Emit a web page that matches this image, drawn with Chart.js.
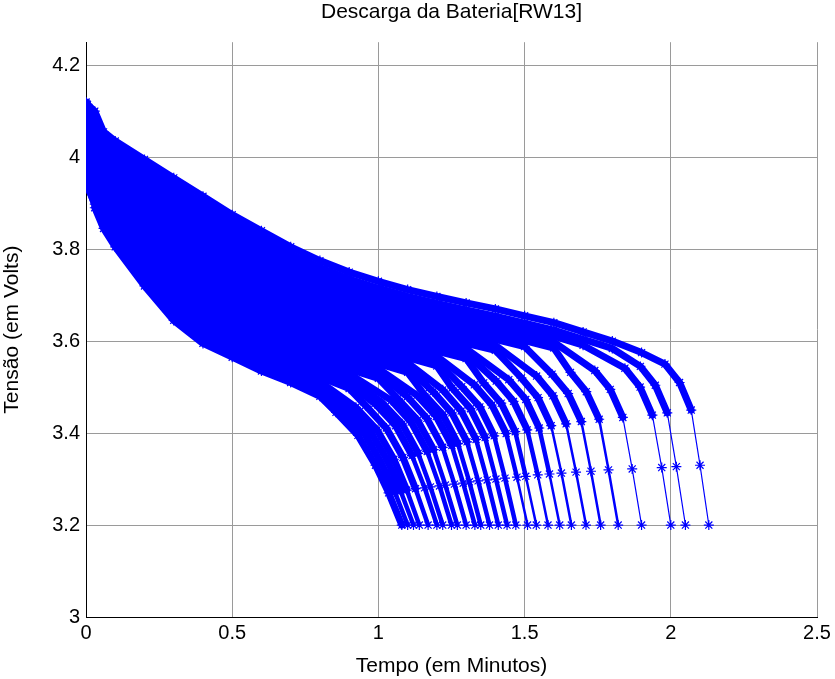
<!DOCTYPE html>
<html>
<head>
<meta charset="utf-8">
<script src="https://cdn.jsdelivr.net/npm/chart.js@4.4.0/dist/chart.umd.min.js"></script>
<style>
  html, body { margin: 0; padding: 0; background: #fff; }
</style>
</head>
<body>
<canvas id="myChart" width="835" height="679"></canvas>
<script>
const xTicks = [0, 0.5, 1, 1.5, 2, 2.5];
const yTicks = [3, 3.2, 3.4, 3.6, 3.8, 4, 4.2];

// common sample times (minutes) for the flat part of every cycle
const timeGrid = [0, 0.005, 0.03, 0.06, 0.1, 0.2, 0.3, 0.4, 0.5, 0.6, 0.7, 0.8, 0.9, 1.0,
  1.1, 1.2, 1.3, 1.4, 1.5, 1.6, 1.7, 1.8, 1.9];

// times of the last 5 samples of each cycle (the knee down to 3.2 V)
const kneeTimes = [
  [0.855, 0.93, 0.99, 1.035, 1.08],
  [0.878, 0.952, 1.011, 1.056, 1.10],
  [0.90, 0.973, 1.032, 1.076, 1.12],
  [0.923, 0.995, 1.053, 1.097, 1.14],
  [0.956, 1.027, 1.084, 1.127, 1.17],
  [0.988, 1.059, 1.115, 1.158, 1.20],
  [1.011, 1.081, 1.136, 1.178, 1.22],
  [1.044, 1.112, 1.167, 1.209, 1.25],
  [1.066, 1.134, 1.189, 1.229, 1.27],
  [1.099, 1.166, 1.22, 1.26, 1.30],
  [1.132, 1.198, 1.251, 1.29, 1.33],
  [1.154, 1.22, 1.272, 1.311, 1.35],
  [1.187, 1.251, 1.303, 1.341, 1.38],
  [1.22, 1.283, 1.334, 1.372, 1.41],
  [1.252, 1.315, 1.365, 1.402, 1.44],
  [1.285, 1.347, 1.396, 1.433, 1.47],
  [1.328, 1.388, 1.437, 1.474, 1.51],
  [1.36, 1.42, 1.468, 1.504, 1.54],
  [1.403, 1.462, 1.509, 1.545, 1.58],
  [1.446, 1.504, 1.55, 1.585, 1.62],
  [1.489, 1.546, 1.591, 1.626, 1.66],
  [1.541, 1.597, 1.642, 1.676, 1.71],
  [1.594, 1.649, 1.694, 1.727, 1.76],
  [1.657, 1.711, 1.755, 1.787, 1.82],
  [1.74, 1.793, 1.836, 1.868, 1.90],
  [1.843, 1.895, 1.937, 1.969, 2.0],
  [1.896, 1.947, 1.988, 2.019, 2.05],
  [1.98, 2.03, 2.07, 2.10, 2.13]
];

// voltage per cycle: flat part on timeGrid, then the 5 knee samples
const cycleVolts = [
  [4.08, 3.93, 3.89, 3.845, 3.805, 3.72, 3.645, 3.595, 3.565, 3.535, 3.51, 3.48,
    3.445, 3.395, 3.33, 3.27, 3.2],
  [4.081, 3.937, 3.898, 3.853, 3.813, 3.73, 3.656, 3.607, 3.576, 3.546, 3.521, 3.491,
    3.449, 3.399, 3.334, 3.272, 3.2],
  [4.083, 3.943, 3.905, 3.86, 3.821, 3.74, 3.667, 3.618, 3.587, 3.557, 3.531, 3.501,
    3.452, 3.403, 3.339, 3.274, 3.2],
  [4.084, 3.95, 3.913, 3.868, 3.83, 3.749, 3.678, 3.629, 3.598, 3.568, 3.542, 3.512,
    3.456, 3.407, 3.343, 3.276, 3.2],
  [4.086, 3.957, 3.92, 3.875, 3.838, 3.759, 3.689, 3.641, 3.609, 3.579, 3.552, 3.522, 3.497,
    3.46, 3.411, 3.347, 3.279, 3.2],
  [4.087, 3.963, 3.928, 3.883, 3.846, 3.769, 3.701, 3.652, 3.621, 3.59, 3.563, 3.533, 3.508,
    3.464, 3.416, 3.351, 3.281, 3.2],
  [4.089, 3.97, 3.935, 3.89, 3.854, 3.779, 3.711, 3.664, 3.631, 3.6, 3.573, 3.543, 3.518,
    3.467, 3.42, 3.356, 3.283, 3.2],
  [4.09, 3.976, 3.943, 3.898, 3.863, 3.789, 3.723, 3.675, 3.643, 3.611, 3.584, 3.554, 3.529,
    3.471, 3.424, 3.36, 3.285, 3.2],
  [4.091, 3.983, 3.95, 3.905, 3.871, 3.799, 3.734, 3.687, 3.654, 3.622, 3.594, 3.564, 3.539, 3.519,
    3.475, 3.428, 3.364, 3.287, 3.2],
  [4.093, 3.989, 3.957, 3.912, 3.879, 3.808, 3.745, 3.698, 3.665, 3.633, 3.605, 3.575, 3.55, 3.53,
    3.479, 3.432, 3.369, 3.289, 3.2],
  [4.094, 3.996, 3.965, 3.92, 3.887, 3.818, 3.756, 3.709, 3.676, 3.644, 3.615, 3.585, 3.56, 3.54,
    3.482, 3.436, 3.373, 3.291, 3.2],
  [4.096, 4.003, 3.973, 3.928, 3.895, 3.828, 3.767, 3.721, 3.687, 3.655, 3.626, 3.596, 3.571, 3.551, 3.532,
    3.486, 3.44, 3.377, 3.294, 3.2],
  [4.097, 4.009, 3.98, 3.935, 3.904, 3.838, 3.778, 3.732, 3.698, 3.666, 3.637, 3.607, 3.582, 3.562, 3.542,
    3.49, 3.444, 3.381, 3.296, 3.2],
  [4.099, 4.016, 3.987, 3.942, 3.912, 3.848, 3.789, 3.744, 3.709, 3.677, 3.647, 3.617, 3.592, 3.572, 3.553,
    3.494, 3.448, 3.386, 3.298, 3.2],
  [4.1, 4.023, 3.995, 3.95, 3.92, 3.858, 3.8, 3.755, 3.72, 3.688, 3.658, 3.628, 3.603, 3.583, 3.564, 3.546,
    3.498, 3.453, 3.39, 3.3, 3.2],
  [4.101, 4.029, 4.003, 3.958, 3.928, 3.867, 3.811, 3.767, 3.731, 3.699, 3.668, 3.638, 3.613, 3.593, 3.574, 3.557,
    3.501, 3.457, 3.394, 3.302, 3.2],
  [4.103, 4.036, 4.01, 3.965, 3.936, 3.877, 3.822, 3.778, 3.742, 3.709, 3.678, 3.648, 3.623, 3.603, 3.585, 3.567,
    3.505, 3.461, 3.399, 3.304, 3.2],
  [4.104, 4.042, 4.018, 3.973, 3.945, 3.887, 3.833, 3.789, 3.753, 3.72, 3.689, 3.659, 3.634, 3.614, 3.595, 3.578, 3.562,
    3.509, 3.465, 3.403, 3.306, 3.2],
  [4.106, 4.049, 4.025, 3.98, 3.953, 3.897, 3.844, 3.801, 3.764, 3.731, 3.7, 3.67, 3.645, 3.625, 3.606, 3.589, 3.573,
    3.513, 3.469, 3.407, 3.309, 3.2],
  [4.107, 4.056, 4.033, 3.988, 3.961, 3.907, 3.856, 3.812, 3.776, 3.742, 3.71, 3.68, 3.655, 3.635, 3.617, 3.6, 3.584,
    3.516, 3.473, 3.411, 3.311, 3.2],
  [4.109, 4.062, 4.04, 3.995, 3.969, 3.916, 3.866, 3.824, 3.786, 3.753, 3.721, 3.691, 3.666, 3.646, 3.627, 3.611, 3.595, 3.58,
    3.52, 3.477, 3.416, 3.313, 3.2],
  [4.11, 4.069, 4.048, 4.003, 3.978, 3.926, 3.878, 3.835, 3.798, 3.764, 3.731, 3.701, 3.676, 3.656, 3.638, 3.622, 3.606, 3.591,
    3.524, 3.481, 3.42, 3.315, 3.2],
  [4.112, 4.076, 4.056, 4.011, 3.987, 3.937, 3.89, 3.848, 3.81, 3.776, 3.743, 3.713, 3.688, 3.668, 3.65, 3.634, 3.618, 3.604, 3.588,
    3.528, 3.486, 3.425, 3.317, 3.2],
  [4.113, 4.084, 4.064, 4.019, 3.996, 3.948, 3.902, 3.861, 3.822, 3.788, 3.755, 3.725, 3.70, 3.68, 3.662, 3.646, 3.631, 3.617, 3.601, 3.585,
    3.532, 3.49, 3.43, 3.32, 3.2],
  [4.115, 4.091, 4.073, 4.028, 4.005, 3.959, 3.915, 3.873, 3.835, 3.80, 3.767, 3.737, 3.712, 3.692, 3.673, 3.658, 3.643, 3.629, 3.613, 3.598,
    3.536, 3.495, 3.434, 3.322, 3.2],
  [4.116, 4.098, 4.081, 4.036, 4.014, 3.97, 3.927, 3.886, 3.847, 3.813, 3.779, 3.749, 3.724, 3.704, 3.685, 3.67, 3.655, 3.642, 3.626, 3.611, 3.591,
    3.541, 3.50, 3.439, 3.325, 3.2],
  [4.118, 4.106, 4.09, 4.045, 4.024, 3.981, 3.94, 3.899, 3.86, 3.825, 3.79, 3.76, 3.735, 3.715, 3.697, 3.682, 3.668, 3.654, 3.639, 3.624, 3.604, 3.584,
    3.545, 3.504, 3.444, 3.327, 3.2],
  [4.12, 4.115, 4.10, 4.055, 4.035, 3.995, 3.955, 3.915, 3.875, 3.84, 3.805, 3.775, 3.75, 3.73, 3.712, 3.697, 3.683, 3.67, 3.655, 3.64, 3.62, 3.60, 3.575,
    3.55, 3.51, 3.45, 3.33, 3.2]
];

const blue = 'rgb(0, 0, 255)';
const labelFont = { family: 'Liberation Sans, Arial, sans-serif', size: 20 };
const titleFont = { family: 'Liberation Sans, Arial, sans-serif', size: 21 };

const datasets = cycleVolts.map((volts, i) => {
  const flatCount = volts.length - kneeTimes[i].length;
  const times = timeGrid.slice(0, flatCount).concat(kneeTimes[i]);
  return {
    data: volts.map((v, j) => ({ x: times[j], y: v })),
    showLine: true,
    borderColor: blue,
    backgroundColor: blue,
    borderWidth: 7,
    borderJoinStyle: 'round',
    borderCapStyle: 'round',
    // dense '*' markers look like a thick band where the curve is flat,
    // a thinner line with separate stars where it falls steeply
    segment: {
      borderWidth: ctx => {
        const dx = Math.abs(ctx.p1.x - ctx.p0.x);
        const dy = Math.abs(ctx.p1.y - ctx.p0.y);
        const lastCycles = ctx.datasetIndex >= 24;
        if (dy > 4.5 * dx) return lastCycles ? 1.2 : 2.5;
        if (dy > 2.5 * dx) return lastCycles ? 2 : 4.5;
        return 7;
      }
    },
    pointStyle: 'star',
    pointRadius: 5,
    pointBorderWidth: 1.2,
    pointBorderColor: blue
  };
});

const myChart = document.getElementById('myChart');

let dischargeChart = new Chart(myChart, {
  type: 'scatter',
  data: { datasets: datasets },
  options: {
    responsive: false,
    animation: false,
    layout: { padding: { left: 0, right: 18, top: 0, bottom: 0 } },
    plugins: {
      legend: { display: false },
      tooltip: { enabled: false },
      title: {
        display: true,
        text: 'Descarga da Bateria[RW13]',
        color: '#000',
        fullSize: false,
        font: { ...titleFont, weight: 'normal' },
        padding: { top: 0, bottom: 17 }
      }
    },
    scales: {
      x: {
        type: 'linear',
        min: 0,
        max: 2.5,
        afterBuildTicks: s => { s.ticks = xTicks.map(v => ({ value: v })); },
        afterFit: s => { s.height = 62; },
        ticks: { color: '#000', font: labelFont, padding: 4, callback: v => String(v) },
        grid: { color: '#9a9a9a', drawTicks: false },
        border: { color: '#000', width: 1 },
        title: { display: true, text: 'Tempo (em Minutos)', color: '#000', font: titleFont, padding: 0 }
      },
      y: {
        type: 'linear',
        min: 3,
        max: 4.25,
        afterBuildTicks: s => { s.ticks = yTicks.map(v => ({ value: v })); },
        afterFit: s => { s.width = 86; },
        ticks: { color: '#000', font: labelFont, padding: 6, callback: v => String(+v.toFixed(1)) },
        grid: { color: '#9a9a9a', drawTicks: false },
        border: { color: '#000', width: 1 },
        title: { display: true, text: 'Tensão (em Volts)', color: '#000', font: titleFont, padding: 0 }
      }
    }
  }
});
</script>
</body>
</html>
